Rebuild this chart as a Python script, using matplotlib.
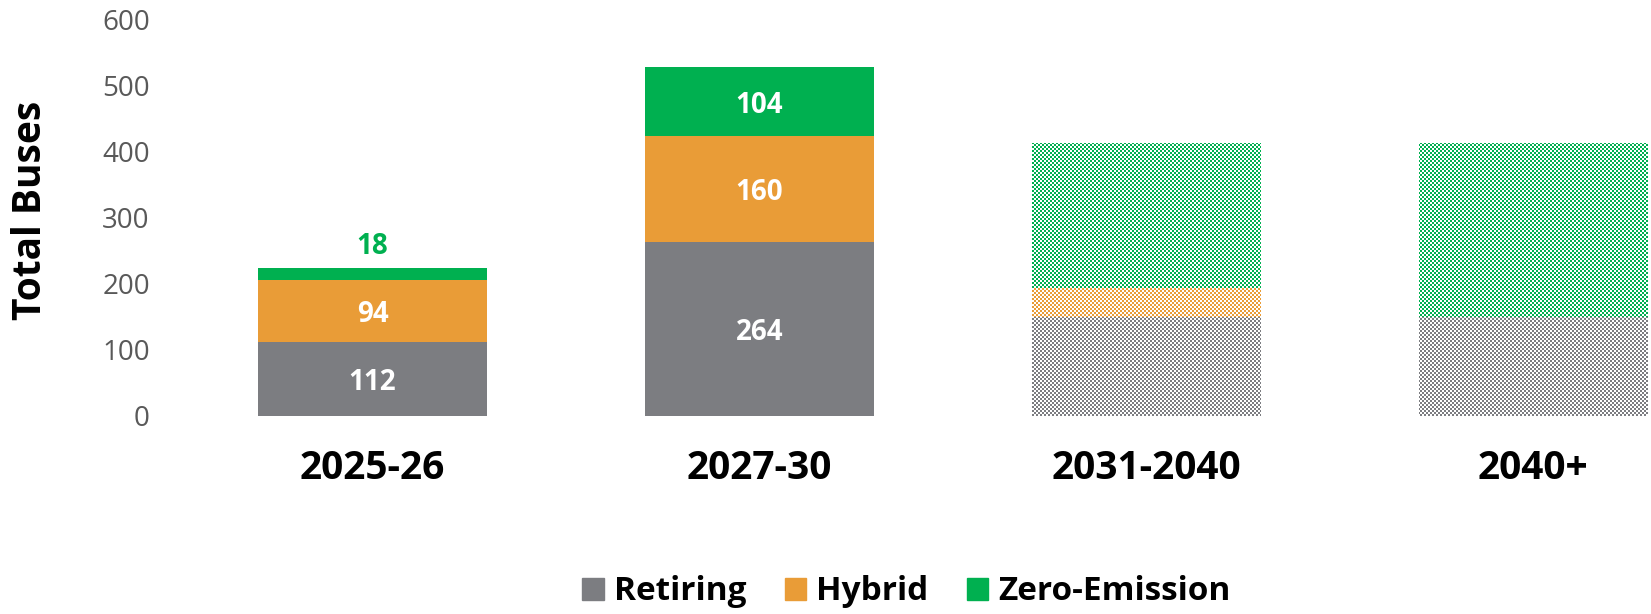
import numpy as np
import matplotlib
matplotlib.use("Agg")
import matplotlib.pyplot as plt
import matplotlib.patches as mpatches

periods = ["2025-26", "2027-30", "2031-2040", "2040+"]
retiring = [112, 264, 150, 150]
hybrid = [94, 160, 44, 0]
zero_emission = [18, 104, 220, 264]
projected = [False, False, True, True]  # drawn with the checker pattern

GRAY = "#7C7D81"
ORANGE = "#E99C37"
GREEN = "#00B050"

plt.rcParams["font.family"] = ["Open Sans", "DejaVu Sans"]

fig = plt.figure(figsize=(16.51, 6.14), dpi=100)
ax = fig.add_axes([0.1084, 0.3230, 0.8916, 0.6445])

x = np.arange(len(periods))
width = 0.592
bottom2 = np.array(retiring) + np.array(hybrid)

b_ret = ax.bar(x, retiring, width, color=GRAY, label="Retiring")
b_hyb = ax.bar(x, hybrid, width, bottom=retiring, color=ORANGE, label="Hybrid")
b_zero = ax.bar(x, zero_emission, width, bottom=bottom2, color=GREEN, label="Zero-Emission")

# checkerboard (2px cells) for the projected bars: white mask clipped to each bar
h, w = 614, 1651
ii, jj = np.mgrid[0:h, 0:w]
mask = ((ii // 2 + jj // 2) % 2 == 0)
checker = np.zeros((h, w, 4))
checker[mask] = [1, 1, 1, 1]
for bars in (b_ret, b_hyb, b_zero):
    for patch, proj in zip(bars.patches, projected):
        if proj and patch.get_height() > 0:
            im = fig.figimage(checker, xo=0, yo=0, zorder=5)
            im.set_clip_path(patch)

# value labels on the solid bars
lab = dict(ha="center", va="center_baseline", fontsize=20, fontweight="bold")
for i, proj in enumerate(projected):
    if proj:
        continue
    ax.text(x[i], retiring[i] / 2, str(retiring[i]), color="white", **lab)
    ax.text(x[i], retiring[i] + hybrid[i] / 2, str(hybrid[i]), color="white", **lab)
    if zero_emission[i] >= 50:
        ax.text(x[i], bottom2[i] + zero_emission[i] / 2, str(zero_emission[i]),
                color="white", **lab)
    else:
        ax.annotate(str(zero_emission[i]), (x[i], bottom2[i] + zero_emission[i]),
                    xytext=(0, 18), textcoords="offset points", color=GREEN, **lab)

ax.set_xlim(-0.5, 3.304)
ax.set_ylim(0, 600)
ax.set_yticks(range(0, 601, 100))
ax.set_xticks(x)
ax.set_xticklabels(periods, fontsize=28, fontweight="bold", color="black")
ax.tick_params(axis="x", length=0, pad=24)
ax.tick_params(axis="y", length=0, pad=21, labelsize=20, labelcolor="#595959")
for s in ax.spines.values():
    s.set_visible(False)

ax.set_ylabel("Total Buses", fontsize=28, fontweight="bold", color="black")
ax.yaxis.label.set_va("center")
ax.yaxis.set_label_coords(-0.101, 0.52)

handles = [
    mpatches.Patch(color=GRAY, label="Retiring"),
    mpatches.Patch(color=ORANGE, label="Hybrid"),
    mpatches.Patch(color=GREEN, label="Zero-Emission"),
]
fig.legend(handles=handles, loc="center", bbox_to_anchor=(0.549, 0.036), ncol=3,
           frameon=False, prop={"size": 24, "weight": "bold"},
           handlelength=0.65, handleheight=0.65, handletextpad=0.3, columnspacing=1.15)

fig.savefig("out.png", dpi=100)
